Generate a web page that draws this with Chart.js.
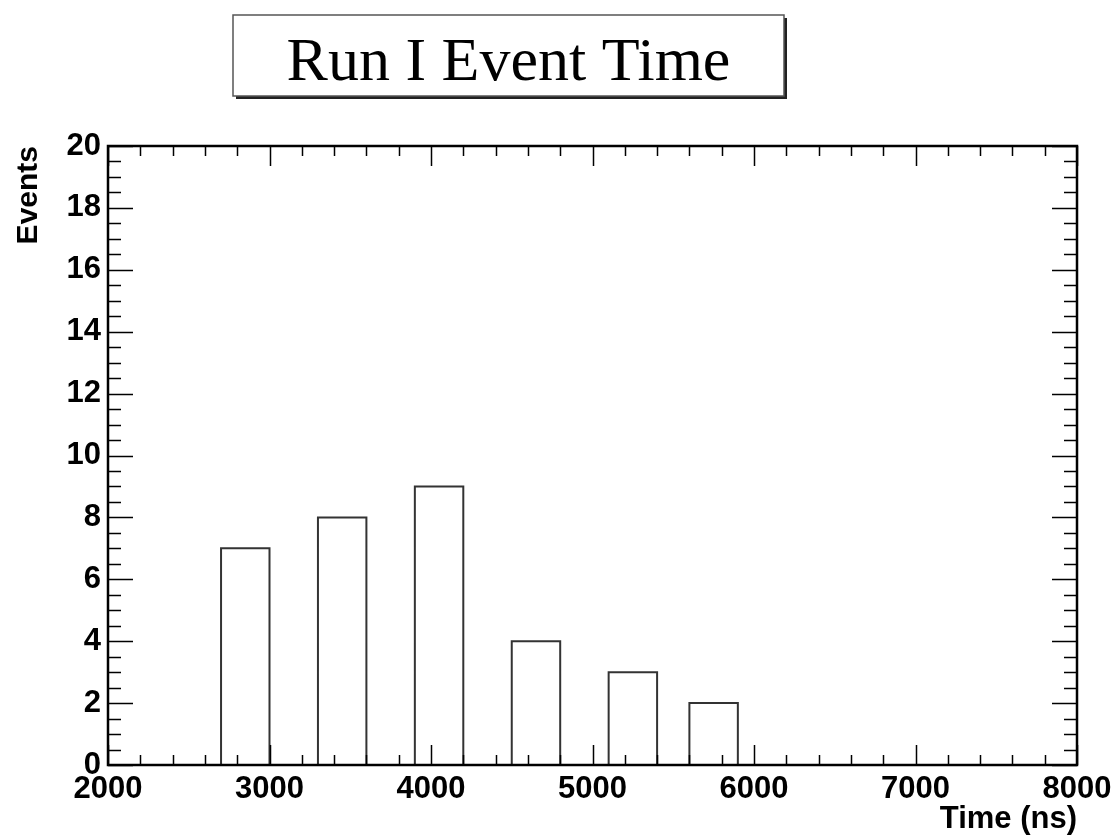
<!DOCTYPE html>
<html>
<head>
<meta charset="utf-8">
<title>Run I Event Time</title>
<script src="https://cdn.jsdelivr.net/npm/chart.js@4/dist/chart.umd.min.js"></script>
<style>
    html, body { margin: 0; padding: 0; background: #fff; }
    #chartWrap { width: 1118px; height: 838px; }
</style>
</head>
<body>
<div id="chartWrap"><canvas id="eventTimeChart" width="1118" height="838"></canvas></div>
<script>
'use strict';

// histogram bins (ns)
let binStarts = [2700, 3300, 3900, 4500, 5100, 5600];
let binEnds = [3000, 3600, 4200, 4800, 5400, 5900];
let eventCounts = [7, 8, 9, 4, 3, 2];

// axis tick labels
let xTickValues = [2000, 3000, 4000, 5000, 6000, 7000, 8000];
let yTickValues = [0, 2, 4, 6, 8, 10, 12, 14, 16, 18, 20];

let chartTitle = 'Run I Event Time';
let xAxisTitle = 'Time (ns)';
let yAxisTitle = 'Events';

let axisFont = "'Liberation Sans', Arial, Helvetica, sans-serif";
let titleFont = "'Liberation Serif', 'Times New Roman', serif";

// outline of each bin, broken between bins with a null point
let outline = [];
for (let i = 0; i < eventCounts.length; i++) {
    outline.push({ x: binStarts[i], y: 0 });
    outline.push({ x: binStarts[i], y: eventCounts[i] });
    outline.push({ x: binEnds[i], y: eventCounts[i] });
    outline.push({ x: binEnds[i], y: 0 });
    outline.push({ x: binEnds[i], y: null });
}

// ROOT style frame: ticks pointing inwards on all four sides
let frameTicks = {
    id: 'frameTicks',
    afterDatasetsDraw: function (chart) {
        let ctx = chart.ctx;
        let area = chart.chartArea;
        let xs = chart.scales.x;
        let ys = chart.scales.y;

        ctx.save();
        ctx.strokeStyle = '#000';
        ctx.lineWidth = 1.5;
        ctx.beginPath();

        // x: major every 1000, minor every 200
        let xStep = (xTickValues[1] - xTickValues[0]) / 5;
        for (let v = xs.min; v <= xs.max + 1e-6; v += xStep) {
            let major = xTickValues.indexOf(Math.round(v)) >= 0;
            let len = major ? 20 : 10;
            let px = Math.round(xs.getPixelForValue(v)) + 0.5;
            ctx.moveTo(px, area.bottom);
            ctx.lineTo(px, area.bottom - len);
            ctx.moveTo(px, area.top);
            ctx.lineTo(px, area.top + len);
        }

        // y: major every 2, minor every 0.5
        let yStep = (yTickValues[1] - yTickValues[0]) / 4;
        for (let v = ys.min; v <= ys.max + 1e-6; v += yStep) {
            let major = yTickValues.indexOf(Math.round(v * 100) / 100) >= 0;
            let len = major ? 25 : 13;
            let py = Math.round(ys.getPixelForValue(v)) + 0.5;
            ctx.moveTo(area.left, py);
            ctx.lineTo(area.left + len, py);
            ctx.moveTo(area.right, py);
            ctx.lineTo(area.right - len, py);
        }
        ctx.stroke();

        // frame
        ctx.lineWidth = 2.5;
        ctx.strokeRect(area.left, area.top, area.right - area.left, area.bottom - area.top);
        ctx.restore();
    }
};

// title in a box with a drop shadow
let titleBox = {
    id: 'titleBox',
    afterDraw: function (chart) {
        let ctx = chart.ctx;
        let left = 233, top = 15, width = 551, height = 81;

        ctx.save();
        ctx.fillStyle = '#222';
        ctx.fillRect(left + 3, top + 3, width, height);
        ctx.fillStyle = '#fff';
        ctx.fillRect(left, top, width, height);
        ctx.strokeStyle = '#555';
        ctx.lineWidth = 1.5;
        ctx.strokeRect(left, top, width, height);

        ctx.fillStyle = '#000';
        ctx.font = '62px ' + titleFont;
        ctx.textAlign = 'center';
        ctx.textBaseline = 'alphabetic';
        ctx.fillText(chartTitle, left + width / 2, 80);
        ctx.restore();
    }
};

let eventTimeChart = new Chart(document.getElementById('eventTimeChart'), {
    type: 'line',
    data: {
        datasets: [
            {
                label: 'Events',
                data: outline,
                borderColor: '#333',
                borderWidth: 2,
                pointRadius: 0,
                tension: 0,
                fill: false,
                spanGaps: false
            }
        ]
    },
    options: {
        responsive: false,
        animation: false,
        layout: {
            padding: { top: 146, right: 41, left: 0, bottom: 0 }
        },
        plugins: {
            legend: { display: false },
            tooltip: { enabled: false },
            title: { display: false }
        },
        scales: {
            x: {
                type: 'linear',
                min: 2000,
                max: 8000,
                afterBuildTicks: function (scale) {
                    scale.ticks = xTickValues.map(v => ({ value: v }));
                },
                afterFit: function (scale) {
                    scale.height = 73;
                },
                grid: { display: false, drawTicks: false },
                border: { display: false },
                ticks: {
                    color: '#000',
                    padding: 6,
                    maxRotation: 0,
                    autoSkip: false,
                    callback: function (value) {
                        return String(value);
                    },
                    font: { family: axisFont, size: 31, weight: 'bold' }
                },
                title: {
                    display: true,
                    text: xAxisTitle,
                    align: 'end',
                    color: '#000',
                    padding: { top: 0, bottom: 0 },
                    font: { family: axisFont, size: 31, weight: 'bold' }
                }
            },
            y: {
                min: 0,
                max: 20,
                afterBuildTicks: function (scale) {
                    scale.ticks = yTickValues.map(v => ({ value: v }));
                },
                afterFit: function (scale) {
                    scale.width = 108;
                },
                grid: { display: false, drawTicks: false },
                border: { display: false },
                ticks: {
                    color: '#000',
                    padding: 7,
                    autoSkip: false,
                    font: { family: axisFont, size: 31, weight: 'bold' }
                },
                title: {
                    display: true,
                    text: yAxisTitle,
                    align: 'end',
                    color: '#000',
                    padding: { top: 11, bottom: 0 },
                    font: { family: axisFont, size: 30, weight: 'bold' }
                }
            }
        }
    },
    plugins: [frameTicks, titleBox]
});
</script>
</body>
</html>
